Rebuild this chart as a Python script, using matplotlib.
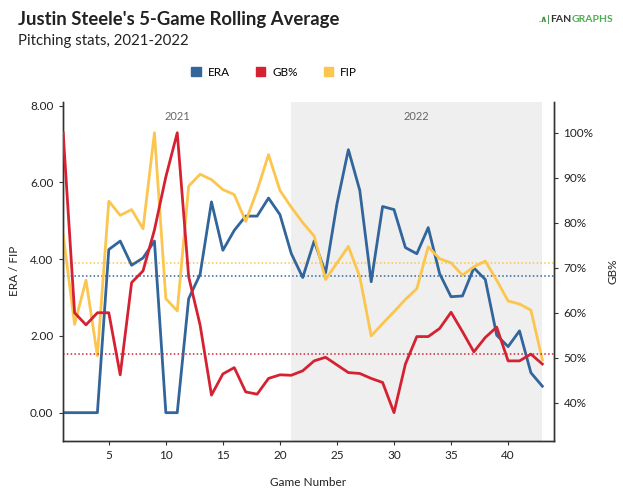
import matplotlib.pyplot as plt
from matplotlib.patches import Patch

plt.rcParams['font.family'] = ['Lato', 'DejaVu Sans']

games = list(range(1, 44))
era = [0.0, 0.0, 0.0, 0.0, 4.25, 4.47, 3.84, 4.03, 4.47, 0.0,
       0.0, 2.97, 3.60, 5.49, 4.23, 4.75, 5.12, 5.12, 5.59, 5.16,
       4.14, 3.52, 4.47, 3.64, 5.44, 6.85, 5.79, 3.41, 5.37, 5.29,
       4.30, 4.14, 4.82, 3.62, 3.02, 3.04, 3.77, 3.47, 2.02, 1.72,
       2.13, 1.04, 0.69]
fip = [4.64, 2.30, 3.45, 1.48, 5.51, 5.14, 5.29, 4.79, 7.29, 2.97,
       2.65, 5.90, 6.21, 6.07, 5.81, 5.68, 4.98, 5.79, 6.72, 5.79,
       5.35, 4.95, 4.60, 3.47, 3.90, 4.33, 3.54, 2.00, 2.32, 2.63,
       2.95, 3.23, 4.32, 4.01, 3.90, 3.58, 3.80, 3.95, 3.45, 2.91,
       2.83, 2.67, 1.38]
gb = [100.0, 60.0, 57.3, 60.0, 60.0, 46.2, 66.7, 69.3, 78.4, 90.2,
      100.0, 68.0, 57.3, 41.7, 46.4, 47.8, 42.4, 41.9, 45.4, 46.2,
      46.1, 47.1, 49.3, 50.1, 48.4, 46.7, 46.5, 45.4, 44.5, 37.8,
      48.6, 54.7, 54.7, 56.5, 60.1, 55.8, 51.3, 54.5, 56.8, 49.3,
      49.3, 50.8, 48.6]

era_avg = 3.57
fip_avg = 3.89
gb_avg = 50.8

seasons = ["2021", "2022"]
season_bounds = [(1, 21), (21, 43)]

BLUE = "#31659b"
RED = "#d52232"
YELLOW = "#fcc54e"
AXC = "#333333"

fig = plt.figure(figsize=(6.23, 5), dpi=100)
ax = fig.add_axes([0.1014, 0.1186, 0.7874, 0.678])
ax2 = ax.twinx()

# 2022 shading
ax.axvspan(season_bounds[1][0], season_bounds[1][1], color="#efefef", lw=0, zorder=0)
for name, (a, b) in zip(seasons, season_bounds):
    ax.text((a + b) / 2, 7.72, name, ha="center", va="center", fontsize=8, color="#666666")

ax.plot(games, era, color=BLUE, lw=2.0, zorder=3)
ax.plot(games, fip, color=YELLOW, lw=2.0, zorder=3)
ax.axhline(era_avg, color=BLUE, lw=1.1, ls=(0, (1, 1.5)), zorder=2)
ax.axhline(fip_avg, color=YELLOW, lw=1.1, ls=(0, (1, 1.5)), zorder=2)
ax2.plot(games, gb, color=RED, lw=2.0, zorder=3)
ax2.axhline(gb_avg, color=RED, lw=1.1, ls=(0, (1, 1.5)), zorder=2)

ax.set_xlim(1, 44)
ax.set_ylim(-0.73, 8.1)
ax2.set_ylim(31.56, 106.9)

ax.set_xticks([5, 10, 15, 20, 25, 30, 35, 40])
ax.set_yticks([0, 2, 4, 6, 8])
ax.set_yticklabels([f"{v:.2f}" for v in [0, 2, 4, 6, 8]])
ax2.set_yticks([40, 50, 60, 70, 80, 90, 100])
ax2.set_yticklabels([f"{v}%" for v in [40, 50, 60, 70, 80, 90, 100]])

for a in (ax, ax2):
    a.spines["top"].set_visible(False)
    for s in ("left", "right", "bottom"):
        a.spines[s].set_color(AXC)
        a.spines[s].set_linewidth(1.0)
    a.tick_params(labelsize=8.5, length=3, width=0.8, color=AXC, labelcolor="#222222", pad=4)

ax.set_xlabel("Game Number", fontsize=8.5, labelpad=11, color="#222222")
ax.set_ylabel("ERA / FIP", fontsize=8.5, labelpad=7, color="#222222")
ax2.set_ylabel("GB%", fontsize=8.5, labelpad=10, color="#222222")

fig.text(0.029, 0.962, "Justin Steele's 5-Game Rolling Average", fontsize=13.3,
         fontweight="bold", color="#222222", va="center")
fig.text(0.029, 0.919, "Pitching stats, 2021-2022", fontsize=10.8, color="#222222", va="center")

handles = [Patch(color=BLUE, label="ERA"), Patch(color=RED, label="GB%"),
           Patch(color=YELLOW, label="FIP")]
fig.legend(handles=handles, loc="center", bbox_to_anchor=(0.44, 0.856), ncol=3,
           frameon=False, fontsize=8.5, handlelength=0.8, handleheight=0.8,
           columnspacing=2.2, handletextpad=0.6)

# FanGraphs mark: pieces chained one after the other
t0 = fig.text(0.864, 0.96, ".\u2227|", fontsize=6.5, fontweight="bold",
              color="#3a8f3e", va="center")
t1 = fig.text(0, 0, "FAN", fontsize=7.5, fontweight="bold", color="#333333")
t1.set_visible(False)
t1 = fig.add_artist(plt.matplotlib.text.Annotation(
    "FAN", xy=(1, 0.5), xycoords=t0, va="center", ha="left",
    fontsize=7.5, fontweight="bold", color="#333333"))
fig.add_artist(plt.matplotlib.text.Annotation(
    "GRAPHS", xy=(1, 0.5), xycoords=t1, va="center", ha="left",
    fontsize=7.5, fontweight="bold", color="#4caf50"))

fig.savefig("out.png", dpi=100)
